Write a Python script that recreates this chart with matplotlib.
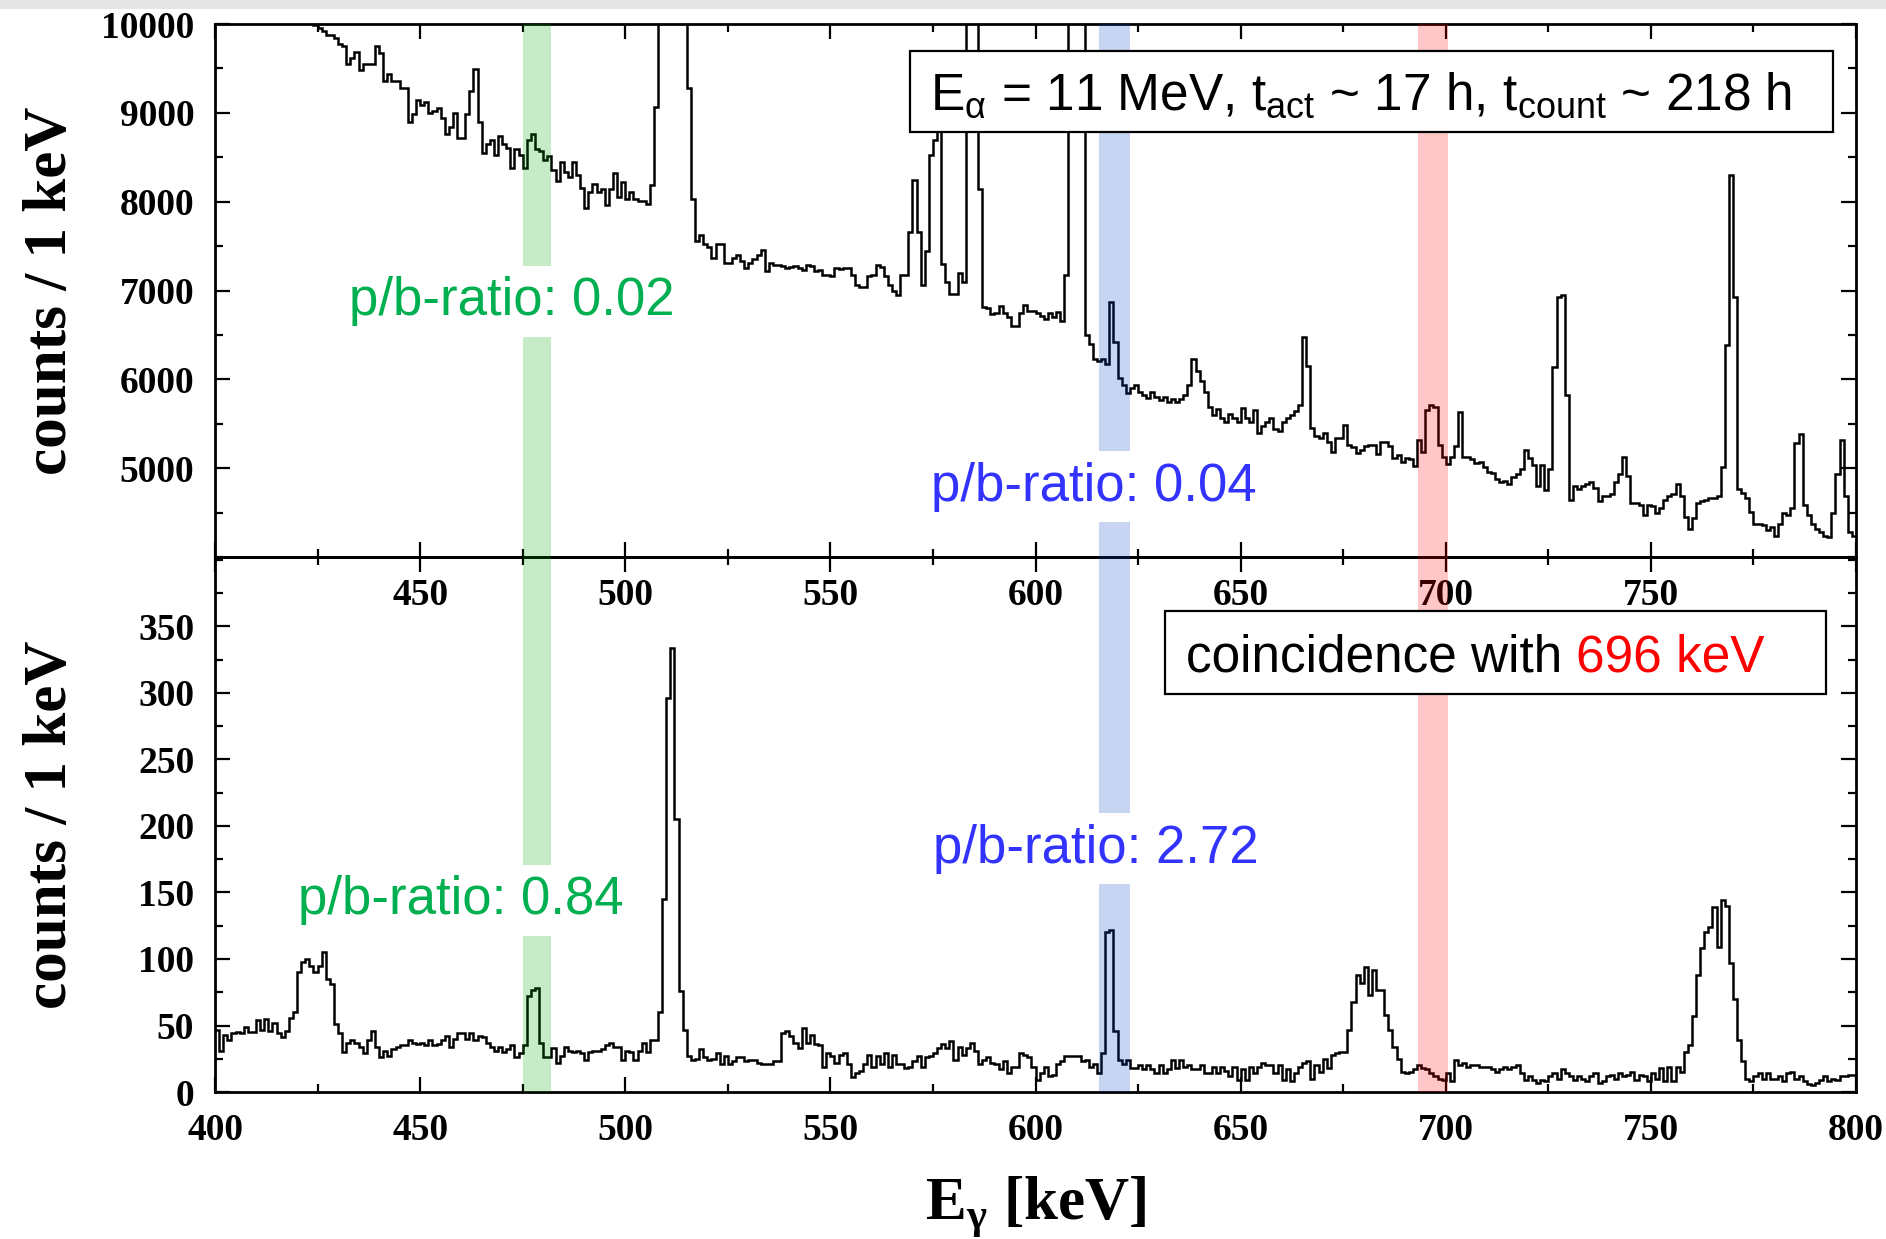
import numpy as np
import matplotlib
matplotlib.use("Agg")
import matplotlib.pyplot as plt
from matplotlib.patches import Rectangle
from matplotlib.text import Annotation
from matplotlib.ticker import MultipleLocator
from matplotlib.transforms import blended_transform_factory

# 1 keV bins, 400 .. 800 keV
energy_edges = np.arange(400, 801)

# singles spectrum (values above 10000 run off the top of the panel)
singles_counts = [
    11200, 11150, 11100, 11000, 10950, 10900, 10800, 10750, 10700, 10600,
    10550, 10500, 10450, 10400, 10350, 10300, 10250, 10200, 10150, 10100,
    10080, 10060, 10040, 10020, 9990, 9960, 9920, 9880, 9880, 9845,
    9770, 9750, 9555, 9620, 9690, 9480, 9555, 9555, 9555, 9750,
    9670, 9360, 9440, 9360, 9360, 9280, 9280, 8900, 8990, 9150,
    9090, 9120, 9000, 9025, 9050, 8940, 8760, 8840, 9000, 8720,
    8720, 8990, 9250, 9490, 8900, 8550, 8650, 8700, 8530, 8740,
    8650, 8610, 8380, 8590, 8530, 8380, 8700, 8760, 8590, 8570,
    8470, 8510, 8360, 8230, 8450, 8340, 8280, 8450, 8300, 8150,
    7930, 8105, 8200, 8105, 8140, 7960, 8140, 8320, 8050, 8220,
    8035, 8105, 8027, 8008, 8008, 7969, 8190, 9070, 20000, 40000,
    60000, 60000, 50000, 30000, 12000, 9280, 8030, 7560, 7620, 7520,
    7490, 7370, 7520, 7520, 7310, 7310, 7370, 7400, 7330, 7250,
    7310, 7350, 7400, 7455, 7215, 7310, 7290, 7290, 7280, 7250,
    7270, 7280, 7250, 7230, 7290, 7280, 7215, 7230, 7180, 7170,
    7160, 7250, 7240, 7255, 7250, 7180, 7060, 7040, 7040, 7160,
    7180, 7290, 7270, 7160, 7060, 7000, 6950, 7180, 7180, 7660,
    8250, 7660, 7060, 7450, 8530, 8700, 9500, 7300, 7100, 6965,
    6965, 7200, 7100, 15000, 40000, 20000, 8145, 6820, 6800, 6734,
    6750, 6830, 6750, 6700, 6604, 6604, 6750, 6838, 6770, 6770,
    6750, 6713, 6680, 6750, 6705, 6760, 6654, 7178, 20000, 40000,
    40000, 30000, 6500, 6400, 6230, 6211, 6230, 6173, 6869, 6424,
    6018, 5940, 5845, 5900, 5940, 5860, 5825, 5785, 5860, 5800,
    5770, 5800, 5745, 5780, 5750, 5780, 5820, 5940, 6230, 6096,
    5980, 5860, 5690, 5594, 5670, 5570, 5516, 5610, 5560, 5516,
    5680, 5560, 5516, 5650, 5400, 5480, 5516, 5560, 5440, 5420,
    5520, 5560, 5600, 5640, 5710, 6482, 6152, 5455, 5360, 5340,
    5400, 5300, 5185, 5340, 5340, 5490, 5260, 5240, 5170, 5210,
    5246, 5265, 5265, 5160, 5290, 5290, 5250, 5120, 5150, 5070,
    5120, 5100, 5030, 5320, 5180, 5650, 5710, 5690, 5265, 5130,
    5050, 5130, 5246, 5630, 5130, 5130, 5100, 5060, 5070, 5014,
    4960, 4950, 4880, 4840, 4860, 4820, 4900, 4930, 4995, 5207,
    5110, 5033, 4801, 5033, 4760, 4995, 6135, 6927, 6946, 5826,
    4647, 4801, 4763, 4800, 4821, 4840, 4782, 4628, 4686, 4686,
    4705, 4840, 4937, 5130, 4917, 4608, 4608, 4590, 4473, 4590,
    4570, 4492, 4550, 4647, 4686, 4705, 4821, 4686, 4454, 4318,
    4434, 4608, 4628, 4647, 4666, 4666, 4686, 5014, 6386, 8299,
    6927, 4763, 4724, 4666, 4512, 4376, 4376, 4357, 4299, 4338,
    4240, 4376, 4492, 4473, 4550, 5285, 5381, 4590, 4473, 4376,
    4318, 4280, 4240, 4222, 4492, 4937, 5323, 4686, 4280, 4240,
]

# spectrum gated on the 696 keV line
coinc_counts = [
    47, 31, 43, 39, 44, 45, 44, 49, 45, 45,
    54, 47, 55, 46, 52, 44, 41, 46, 56, 60,
    90, 98, 100, 95, 90, 95, 105, 85, 81, 51,
    44, 30, 37, 39, 37, 34, 29, 39, 46, 34,
    26, 31, 27, 32, 34, 35, 35, 39, 37, 36,
    37, 35, 39, 35, 36, 39, 42, 34, 40, 44,
    44, 40, 44, 39, 42, 41, 37, 34, 31, 34,
    30, 32, 35, 26, 29, 35, 72, 77, 78, 37,
    26, 26, 33, 22, 27, 34, 31, 30, 31, 29,
    24, 30, 31, 31, 32, 35, 37, 34, 34, 24,
    31, 30, 24, 31, 37, 30, 39, 39, 60, 145,
    296, 334, 205, 76, 47, 27, 24, 25, 32, 26,
    24, 25, 29, 21, 27, 21, 23, 26, 26, 23,
    24, 24, 22, 21, 21, 21, 23, 23, 44, 46,
    42, 37, 33, 48, 37, 43, 36, 35, 19, 29,
    27, 22, 28, 29, 21, 11, 14, 16, 21, 28,
    19, 27, 21, 29, 19, 28, 21, 21, 18, 19,
    23, 27, 19, 26, 27, 29, 33, 36, 33, 38,
    24, 34, 28, 33, 37, 31, 21, 24, 26, 22,
    21, 17, 23, 14, 19, 19, 29, 28, 26, 19,
    9, 14, 19, 12, 13, 21, 23, 27, 27, 27,
    27, 23, 24, 19, 21, 14, 29, 120, 122, 46,
    24, 21, 24, 18, 18, 20, 17, 20, 17, 14,
    20, 14, 17, 24, 18, 24, 19, 20, 17, 17,
    20, 14, 14, 19, 14, 19, 16, 12, 19, 9,
    17, 9, 19, 14, 19, 22, 20, 20, 14, 20,
    9, 17, 8, 14, 19, 22, 23, 10, 20, 15,
    25, 18, 28, 29, 30, 30, 47, 68, 88, 82,
    94, 73, 92, 77, 77, 58, 47, 34, 25, 15,
    14, 15, 17, 20, 18, 17, 14, 12, 10, 9,
    14, 8, 24, 20, 22, 19, 20, 20, 19, 19,
    19, 17, 15, 17, 19, 17, 19, 20, 14, 9,
    12, 9, 7, 9, 8, 12, 14, 10, 17, 14,
    12, 9, 12, 10, 8, 12, 14, 7, 8, 12,
    13, 10, 14, 12, 13, 15, 9, 13, 12, 8,
    14, 10, 18, 8, 19, 8, 19, 15, 30, 35,
    57, 88, 108, 120, 124, 139, 109, 144, 140, 97,
    70, 39, 23, 10, 8, 12, 14, 10, 14, 10,
    10, 12, 8, 14, 15, 10, 12, 8, 6, 5,
    7, 9, 12, 8, 10, 9, 12, 12, 13, 13,
]

# gates / regions of interest (keV)
band_lo = [475.0, 615.5, 693.3]
band_hi = [482.0, 623.0, 700.6]
band_colors = ["#00a000", "#0040c8", "#ff0000"]

# peak-to-background labels: text, energy, counts, colour, panel
ratio_text = ["p/b-ratio: 0.02", "p/b-ratio: 0.04", "p/b-ratio: 0.84", "p/b-ratio: 2.72"]
ratio_x = [472.4, 614.1, 459.8, 614.7]
ratio_y = [6880, 4790, 144, 183]
ratio_color = ["#00b050", "#3333ff", "#00b050", "#3333ff"]
ratio_panel = [0, 0, 1, 1]

plt.rcParams["font.family"] = ["Liberation Serif", "DejaVu Serif"]
plt.rcParams["font.weight"] = "bold"
plt.rcParams["axes.linewidth"] = 2.0

fig = plt.figure(figsize=(18.86, 12.39), dpi=100)
ax1 = fig.add_axes([0.1140, 0.5504, 0.8701, 0.4302])
ax2 = fig.add_axes([0.1140, 0.1186, 0.8701, 0.4318])
ax2.patch.set_visible(False)

ax1.stairs(singles_counts, energy_edges, baseline=None, color="black", lw=1.8)
ax2.stairs(coinc_counts, energy_edges, baseline=None, color="black", lw=1.8)

ax1.set_xlim(400, 800)
ax2.set_xlim(400, 800)
ax1.set_ylim(4000, 10000)
ax2.set_ylim(0, 402)

for ax in (ax1, ax2):
    ax.xaxis.set_major_locator(MultipleLocator(50))
    ax.xaxis.set_minor_locator(MultipleLocator(25))
    ax.tick_params(which="both", direction="in", top=True, right=True,
                   width=1.6, labelsize=27)
    ax.tick_params(which="major", length=11)
    ax.tick_params(which="minor", length=6)
    ax.tick_params(axis="x", pad=15)
    ax.tick_params(axis="y", pad=15)

ax1.set_yticks(np.arange(5000, 10001, 1000))
ax1.yaxis.set_minor_locator(MultipleLocator(500))
xt = np.arange(400, 801, 50)
ax1.set_xticks(xt)
ax1.set_xticklabels(["" if t in (400, 800) else str(t) for t in xt])

ax2.set_yticks(np.arange(0, 351, 50))
ax2.yaxis.set_minor_locator(MultipleLocator(25))

label_font = dict(fontsize=44, fontweight="bold", family="Liberation Serif")
ax1.set_ylabel("counts / 1 keV", va="center", **label_font)
ax2.set_ylabel("counts / 1 keV", va="center", **label_font)
ax1.yaxis.set_label_coords(-0.1, 0.5)
ax2.yaxis.set_label_coords(-0.1, 0.5)
ax2.set_xlabel(r"E$_{\mathdefault{γ}}$ [keV]", va="center", **label_font)
ax2.xaxis.set_label_coords(0.5, -0.215)

# coloured gates run across both panels and over the tick labels
band_tr = blended_transform_factory(ax1.transData, fig.transFigure)
for lo, hi, c in zip(band_lo, band_hi, band_colors):
    fig.add_artist(Rectangle((lo, 0.1186), hi - lo, 0.9806 - 0.1186,
                             transform=band_tr, facecolor=c, alpha=0.22,
                             edgecolor="none", zorder=5))

sans = dict(family="Liberation Sans", fontweight="normal")
for s, x, y, c, p in zip(ratio_text, ratio_x, ratio_y, ratio_color, ratio_panel):
    ax = (ax1, ax2)[p]
    fig.text(x, y, s, transform=ax.transData, color=c, fontsize=38,
             ha="center", va="center", zorder=7,
             bbox=dict(boxstyle="square,pad=0.2", fc="white", ec="none"), **sans)

# info boxes
fig.add_artist(Rectangle((0.4235, 0.797), 0.5625, 0.153, transform=ax1.transAxes,
                         facecolor="white", edgecolor="black", lw=1.6, zorder=6))
fig.text(0.4357, 0.866,
         r"E$_{\mathdefault{α}}$ = 11 MeV, t$_{\mathdefault{act}}$ ~ 17 h, "
         r"t$_{\mathdefault{count}}$ ~ 218 h",
         transform=ax1.transAxes, fontsize=37, ha="left", va="center",
         zorder=7, **sans)

fig.add_artist(Rectangle((0.579, 0.744), 0.403, 0.155, transform=ax2.transAxes,
                         facecolor="white", edgecolor="black", lw=1.6, zorder=6))
t1 = fig.text(0.5917, 0.812, "coincidence with", transform=ax2.transAxes,
              fontsize=37, ha="left", va="center", zorder=7, **sans)
fig.add_artist(Annotation("696 keV", xy=(1, 0), xycoords=t1, xytext=(10, 0),
                          textcoords="offset points", ha="left", va="bottom",
                          color="red", fontsize=37, zorder=7, **sans))

# light strip along the top edge of the screenshot
fig.add_artist(Rectangle((0, 1 - 9 / 1239), 1, 9 / 1239, transform=fig.transFigure,
                         facecolor="#e6e6e6", edgecolor="none", zorder=8))

fig.savefig("out.png", dpi=100)
